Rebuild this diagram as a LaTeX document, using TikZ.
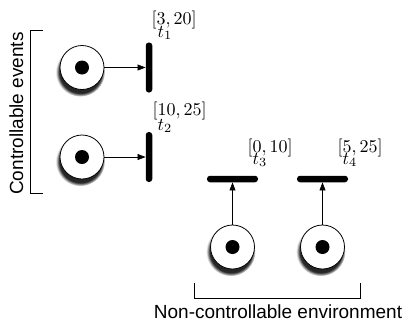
\RequirePackage{fix-cm}
\documentclass[tikz,border=0pt]{standalone}
\usepackage{fontspec}
\newfontfamily\hel{Liberation Sans}
\usetikzlibrary{arrows.meta,shadows}
\newcommand\biglab[1]{\scalebox{1.8}{$#1$}}
\begin{document}
\begin{tikzpicture}[x=1pt,y=-1pt,
  place/.style={circle,draw=black,line width=0.8pt,fill=white,minimum size=44pt,inner sep=0pt,
    circular drop shadow={shadow xshift=-1.5pt,shadow yshift=-4pt,shadow scale=1.12,fill=black!85}},
  token/.style={circle,fill=black,minimum size=14pt,inner sep=0pt},
  transv/.style={rectangle,fill=black,minimum width=6.5pt,minimum height=50pt,inner sep=0pt,rounded corners=3pt},
  transh/.style={rectangle,fill=black,minimum width=51pt,minimum height=6.5pt,inner sep=0pt,rounded corners=3pt},
  arc/.style={-{Triangle[length=8pt,width=6pt]},line width=0.6pt},
  tlab/.style={inner sep=0pt,anchor=base west},
  side/.style={font=\hel\fontsize{19}{22}\selectfont,inner sep=0pt,anchor=base},
  brk/.style={line width=0.7pt}]
\useasboundingbox (0,0) rectangle (403,322);
% places
\node[place] (p1) at (82,67.5) {};
\node[token] (k1) at (p1) {};
\node[place] (p2) at (82,157) {};
\node[token] (k2) at (p2) {};
\node[place] (p3) at (232.5,247) {};
\node[token] (k3) at (p3) {};
\node[place] (p4) at (322.5,247) {};
\node[token] (k4) at (p4) {};
% transitions
\node[transv] (t1) at (149,67.5) {};
\node[transv] (t2) at (149,157) {};
\node[transh] (t3) at (232.5,179) {};
\node[transh] (t4) at (322.5,179) {};
% arcs
\draw[arc] (p1) -- (t1);
\draw[arc] (p2) -- (t2);
\draw[arc] (p3) -- (t3);
\draw[arc] (p4) -- (t4);
% labels
\node[tlab] (i1) at (151.5,24) {\biglab{[3,20]}};
\node[tlab] (n1) at (157.5,37) {\biglab{t_1}};
\node[tlab] (i2) at (152.5,115) {\biglab{[10,25]}};
\node[tlab] (n2) at (157.5,130) {\biglab{t_2}};
\node[tlab] (i3) at (247.5,152) {\biglab{[0,10]}};
\node[tlab] (n3) at (252.5,164) {\biglab{t_3}};
\node[tlab] (i4) at (337.5,152) {\biglab{[5,25]}};
\node[tlab] (n4) at (342.5,164) {\biglab{t_4}};
% brackets
\draw[brk] (43,30) -- (30,30) -- (30,193) -- (43,193);
\draw[brk] (194,283) -- (194,298) -- (360,298) -- (360,283);
\node[side,rotate=90] (ce) at (23,113.5) {Controllable events};
\node[side] (ne) at (278,318) {Non-controllable environment};
\end{tikzpicture}
\end{document}
